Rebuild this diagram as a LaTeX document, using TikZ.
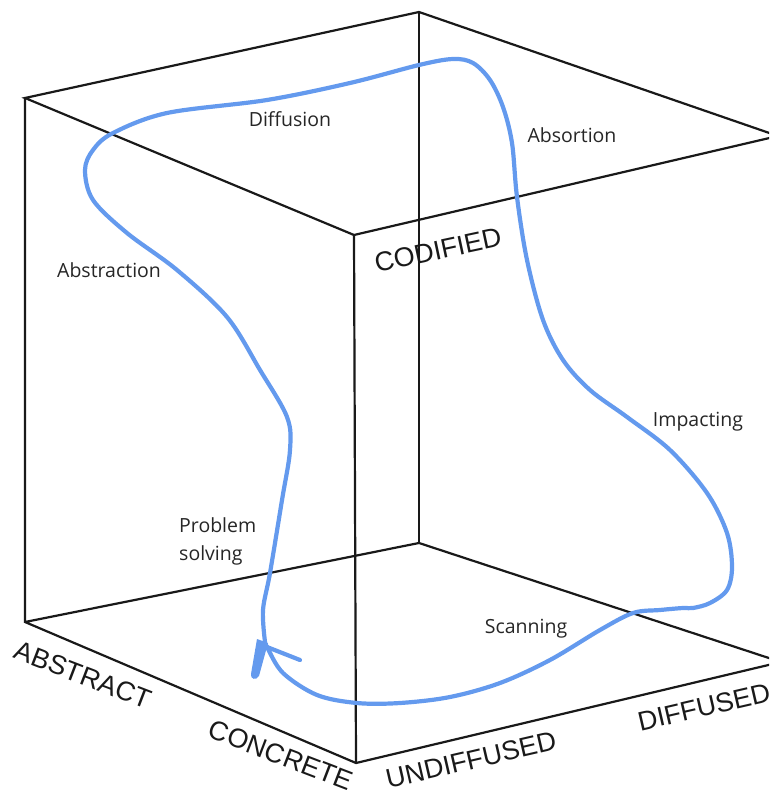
\documentclass[tikz,border=0pt]{standalone}
\usepackage{fontspec}
\setmainfont{Open Sans}
\newfontfamily\capfont{Liberation Sans}
\definecolor{flow}{RGB}{100,154,238}
\begin{document}
\begin{tikzpicture}[x=1pt,y=-1pt,
  edge/.style={line width=2.2pt, draw=black!90, line cap=round},
  flowline/.style={draw=flow, line width=4.2pt, line cap=round, line join=round},
  axislabel/.style={font=\capfont\fontsize{27}{27}\selectfont, inner sep=0pt, text=black!90},
  stage/.style={font=\fontsize{19.5}{28}\selectfont, inner sep=0pt, text=black!85, align=left}]
\useasboundingbox (0,0) rectangle (769,794);
\begin{scope}
\clip (0,0) rectangle (769,794);
% cube vertices
\coordinate (btl) at (25,98);
\coordinate (btr) at (419,12);
\coordinate (ftr) at (778,136);
\coordinate (ftl) at (354,235);
\coordinate (bbl) at (25,622);
\coordinate (bbr) at (419,543);
\coordinate (fbr) at (781,662);
\coordinate (fbl) at (356,763);
% edges
\draw[edge] (btl) -- (btr) -- (ftr) -- (ftl) -- cycle;
\draw[edge] (btl) -- (bbl) -- (fbl) -- (fbr) -- (bbr) -- (bbl);
\draw[edge] (btr) -- (bbr);
\draw[edge] (ftl) -- (fbl);

% flow curve
\coordinate (tip) at (265,642);
\draw[flowline] plot[smooth, tension=0.55] coordinates {
 (265,642) (263,610) (270,573) (282,500) (290,450) (287,417) (260,370)
 (227,317) (177,270) (127,233) (93,200) (85,170) (93,150) (113,133)
 (167,113) (267,100) (350,83) (419,65) (453,59) (473,63) (490,80)
 (503,107) (512,143) (517,197) (527,260) (543,320) (563,360) (590,390)
 (627,417) (670,450) (707,493) (727,533) (732,567) (727,590) (710,603)
 (693,608) (683,608) (660,610) (633,613) (600,630) (550,660) (500,683)
 (450,697) (400,703) (357,703) (317,695) (283,673) (267,647) (265,642)};
% arrow barbs
\coordinate (barbL) at (255,675);
\coordinate (barbR) at (300,660);
\fill[flow] (257,639) -- (268,643) -- (259,676) .. controls (256,681) and (250,679) .. (251,674) -- cycle;
\draw[flowline] (267,647) -- (barbR);

% axis labels
\node[axislabel, rotate=12] (codified) at (438,250) {CODIFIED};
\node[axislabel, rotate=-21] (abstract) at (83,675) {ABSTRACT};
\node[axislabel, rotate=-21] (concrete) at (281,755) {CONCRETE};
\node[axislabel, rotate=13] (undiffused) at (471,760) {UNDIFFUSED};
\node[axislabel, rotate=13] (diffused) at (704,707) {DIFFUSED};
\end{scope}

% stage labels
\node[stage, anchor=base] (diffusion) at (290,127) {Diffusion};
\node[stage, anchor=base] (absortion) at (572,143) {Absortion};
\node[stage, anchor=base west] (abstraction) at (57,277) {Abstraction};
\node[stage, anchor=base] (impacting) at (698,426) {Impacting};
\node[stage, anchor=base west] (problem) at (179,560) {Problem\\solving};
\node[stage, anchor=base] (scanning) at (526,633) {Scanning};
\end{tikzpicture}
\end{document}
